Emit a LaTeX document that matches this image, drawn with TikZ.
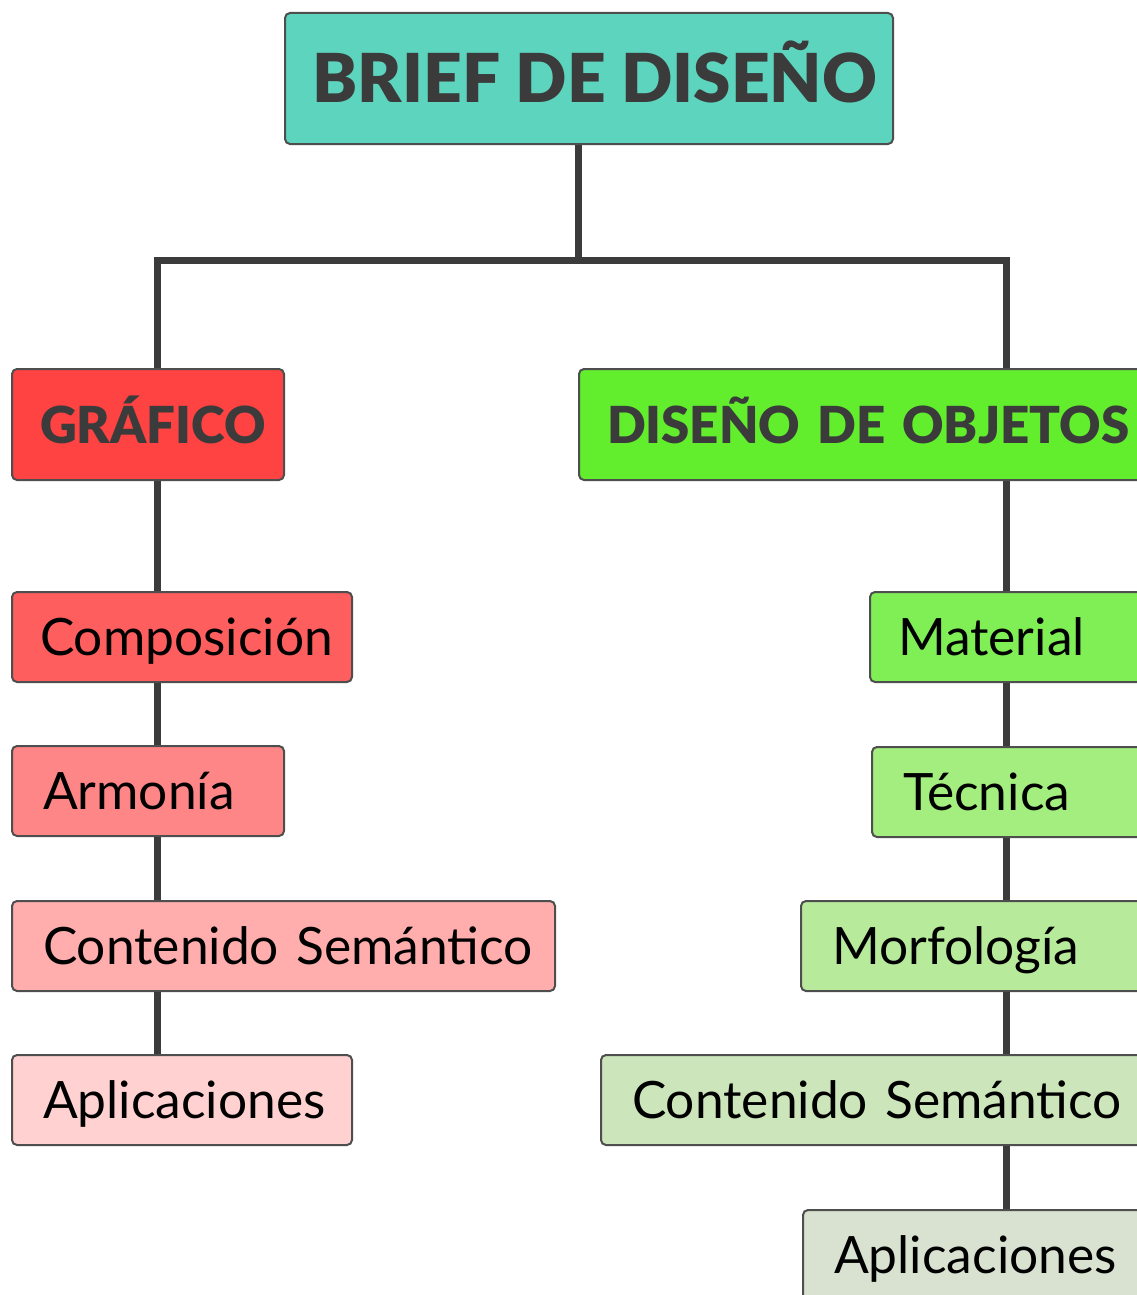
\documentclass[tikz,border=0pt]{standalone}
\usepackage{fontspec}
\setmainfont{Lato}[BoldFont={Lato Black}]
\usepackage{xcolor}
\usepackage{tikz}
\definecolor{ink}{HTML}{3B3B3B}
\definecolor{edge}{HTML}{4E4E4E}
\definecolor{teal}{HTML}{5DD4BE}
\definecolor{redA}{HTML}{FF4242}
\definecolor{redB}{HTML}{FF5E5E}
\definecolor{redC}{HTML}{FF8686}
\definecolor{redD}{HTML}{FFADAD}
\definecolor{redE}{HTML}{FFD1D1}
\definecolor{grnA}{HTML}{62EE2D}
\definecolor{grnB}{HTML}{80EF56}
\definecolor{grnC}{HTML}{A3EE7E}
\definecolor{grnD}{HTML}{B8EA9C}
\definecolor{grnE}{HTML}{CCE5BA}
\definecolor{grnF}{HTML}{D9E2D0}
\tikzset{
  conn/.style={draw=ink, line width=7pt, line join=miter},
  box/.style={draw=edge, line width=2pt, rounded corners=5pt, anchor=north west, align=left, inner xsep=28pt, inner ysep=0pt,
    execute at begin node={\hyphenpenalty=10000\exhyphenpenalty=10000\hbadness=10000\hfuzz=100pt}},
  root/.style={box, anchor=north, align=center, inner xsep=14pt, minimum width=608pt, minimum height=131pt, text height=61pt, text depth=12pt, text=ink, font=\fontsize{67.5}{72}\selectfont\bfseries},
  head/.style={box, minimum height=111pt, text height=47pt, text depth=10pt, text=ink, font=\fontsize{51}{56}\selectfont\bfseries},
  leaf/.style={box, minimum height=90pt, text height=47pt, text depth=10pt, text=black, font=\fontsize{51.5}{56}\selectfont},
}
\begin{document}
\begin{tikzpicture}[x=1pt, y=-1pt]
  \useasboundingbox (0,0) rectangle (1137,1295);
  \clip (0,0) rectangle (1137,1295);
  \fill[white] (0,0) rectangle (1137,1295);
  % columns and fork
  \coordinate (fork) at (578,260);
  \coordinate (lcol) at (157,0);
  \coordinate (rcol) at (1006,0);
  % root
  \node[root, fill=teal] (brief) at (589,12) {\hspace*{12pt}BRIEF DE DISEÑO};
  % left branch
  \node[head, fill=redA, text width=216pt] (grafico) at (11,368) {GRÁFICO};
  \node[leaf, fill=redB, text width=284pt] (comp) at (11,591) {Composición};
  \node[leaf, fill=redC, text width=216pt] (armonia) at (11,745) {\hspace*{3pt}Armonía};
  \node[leaf, fill=redD, text width=487pt] (semL) at (11,900) {\hspace*{3pt}Contenido~Semántico};
  \node[leaf, fill=redE, text width=284pt] (aplicL) at (11,1054) {\hspace*{3pt}Aplicaciones};
  % right branch
  \node[head, fill=grnA, text width=534pt] (objetos) at (578,368) {DISEÑO~DE~OBJETOS};
  \node[leaf, fill=grnB, text width=225pt] (material) at (869,591) {Material};
  \node[leaf, fill=grnC, text width=223pt] (tecnica) at (871,746) {\hspace*{3pt}Técnica};
  \node[leaf, fill=grnD, text width=294pt] (morfo) at (800,900) {\hspace*{3pt}Morfología};
  \node[leaf, fill=grnE, text width=494pt] (semR) at (600,1054) {\hspace*{3pt}Contenido~Semántico};
  \node[leaf, fill=grnF, text width=292pt] (aplicR) at (802,1209) {\hspace*{3pt}Aplicaciones};
  % connectors
  \draw[conn] (fork |- brief.south) -- (fork);
  \draw[conn] (lcol |- grafico.north) |- (fork) -| (rcol |- objetos.north);
  \draw[conn] (lcol |- grafico.south) -- (lcol |- comp.north);
  \draw[conn] (lcol |- comp.south) -- (lcol |- armonia.north);
  \draw[conn] (lcol |- armonia.south) -- (lcol |- semL.north);
  \draw[conn] (lcol |- semL.south) -- (lcol |- aplicL.north);
  \draw[conn] (rcol |- objetos.south) -- (rcol |- material.north);
  \draw[conn] (rcol |- material.south) -- (rcol |- tecnica.north);
  \draw[conn] (rcol |- tecnica.south) -- (rcol |- morfo.north);
  \draw[conn] (rcol |- morfo.south) -- (rcol |- semR.north);
  \draw[conn] (rcol |- semR.south) -- (rcol |- aplicR.north);
\end{tikzpicture}
\end{document}
